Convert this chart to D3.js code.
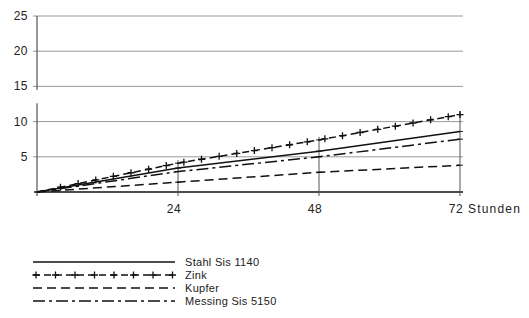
<html lang="de">
<head>
<meta charset="utf-8">
<title>Korrosion</title>
<script src="https://cdn.jsdelivr.net/npm/d3@7"></script>
<style>
body { margin: 0; background: #fff; }
text { font-family: "Liberation Sans", Arial, sans-serif; fill: #222; }
</style>
</head>
<body>
<script>
// hours and measured values
var hours = [0, 24, 48, 72];
var stahl = [0, 3.4, 5.8, 8.6];
var zink = [0, 4.1, 7.4, 11.0];
var kupfer = [0, 1.4, 2.8, 3.8];
var messing = [0, 2.9, 5.0, 7.5];
var yTicks = [5, 10, 15, 20, 25];
var xTicks = [24, 48, 72];
var names = ["Stahl Sis 1140", "Zink", "Kupfer", "Messing Sis 5150"];

var w = 529, h = 318;
var svg = d3.select("body").append("svg").attr("width", w).attr("height", h);

var x = d3.scaleLinear().domain([0, 72]).range([37, 460]);
var y = d3.scaleLinear().domain([0, 25]).range([192, 16]);

// gridlines
svg.selectAll("line.grid")
  .data(yTicks)
  .enter().append("line")
  .attr("class", "grid")
  .attr("x1", x(0) - 4).attr("x2", x(72) + 3)
  .attr("y1", function(d) { return y(d); })
  .attr("y2", function(d) { return y(d); })
  .attr("stroke", "#9a9a9a").attr("stroke-width", 1);

// y labels
svg.selectAll("text.ylab")
  .data(yTicks)
  .enter().append("text")
  .attr("class", "ylab")
  .attr("x", 28)
  .attr("y", function(d) { return y(d) + 4; })
  .attr("text-anchor", "end")
  .attr("font-size", "12px")
  .attr("letter-spacing", "0.5px")
  .text(function(d) { return d; });

// broken y axis
svg.append("line").attr("x1", x(0)).attr("x2", x(0)).attr("y1", y(25)).attr("y2", y(14.5))
  .attr("stroke", "#333").attr("stroke-width", 1);
svg.append("line").attr("x1", x(0)).attr("x2", x(0)).attr("y1", y(12.6)).attr("y2", y(0) + 4)
  .attr("stroke", "#333").attr("stroke-width", 1);

// x axis
svg.append("line").attr("x1", x(0) - 3).attr("x2", x(72) + 3).attr("y1", y(0)).attr("y2", y(0))
  .attr("stroke", "#111").attr("stroke-width", 1.3);

var all = [stahl, zink, kupfer, messing];

// drop lines at the measuring points
xTicks.forEach(function(t) {
  var i = hours.indexOf(t);
  var top = d3.max(all, function(s) { return s[i]; });
  svg.append("line")
    .attr("x1", x(t)).attr("x2", x(t))
    .attr("y1", y(0) + 4).attr("y2", y(top) - 3)
    .attr("stroke", "#555").attr("stroke-width", 1);
  all.forEach(function(s) {
    svg.append("line")
      .attr("x1", x(t) - 3).attr("x2", x(t) + 3)
      .attr("y1", y(s[i])).attr("y2", y(s[i]))
      .attr("stroke", "#222").attr("stroke-width", 1);
  });
});

// x labels
svg.selectAll("text.xlab")
  .data(xTicks)
  .enter().append("text")
  .attr("class", "xlab")
  .attr("x", function(d) { return x(d) - 4; })
  .attr("y", 213)
  .attr("text-anchor", "middle")
  .attr("font-size", "12px")
  .attr("letter-spacing", "0.5px")
  .text(function(d) { return d; });
svg.append("text").attr("x", x(72) + 8).attr("y", 213).attr("font-size", "12px")
  .attr("letter-spacing", "1.2px").text("Stunden");

// series
var dashes = [null, "7,4", "9,5", "12,4,3,4"];
var line = d3.line()
  .x(function(d, i) { return x(hours[i]); })
  .y(function(d) { return y(d); });

all.forEach(function(s, k) {
  svg.append("path")
    .datum(s)
    .attr("d", line)
    .attr("fill", "none")
    .attr("stroke", "#111")
    .attr("stroke-width", 1.5)
    .attr("stroke-dasharray", dashes[k]);
});

// plus markers along Zink
var zf = d3.scaleLinear().domain(hours).range(zink);
var plusHours = d3.range(4, 72, 3);
plusHours.push(72);
svg.selectAll("path.plus")
  .data(plusHours)
  .enter().append("path")
  .attr("class", "plus")
  .attr("d", function(t) {
    var px = x(t), py = y(zf(t));
    return "M" + (px - 3.5) + "," + py + "H" + (px + 3.5) + "M" + px + "," + (py - 3.5) + "V" + (py + 3.5);
  })
  .attr("stroke", "#111").attr("stroke-width", 1.3);

// legend
var ly = [262, 275, 288, 301];
names.forEach(function(n, k) {
  svg.append("line")
    .attr("x1", 33).attr("x2", 175)
    .attr("y1", ly[k]).attr("y2", ly[k])
    .attr("stroke", "#111").attr("stroke-width", 1.4)
    .attr("stroke-dasharray", dashes[k]);
  svg.append("text").attr("x", 185).attr("y", ly[k] + 4).attr("font-size", "11px")
    .attr("letter-spacing", "0.3px").text(n);
});
svg.selectAll("path.lplus")
  .data(d3.range(8))
  .enter().append("path")
  .attr("d", function(i) {
    var px = 36 + i * 19.5, py = ly[1];
    return "M" + (px - 3.5) + "," + py + "H" + (px + 3.5) + "M" + px + "," + (py - 3.5) + "V" + (py + 3.5);
  })
  .attr("stroke", "#111").attr("stroke-width", 1.3);
</script>
</body>
</html>
